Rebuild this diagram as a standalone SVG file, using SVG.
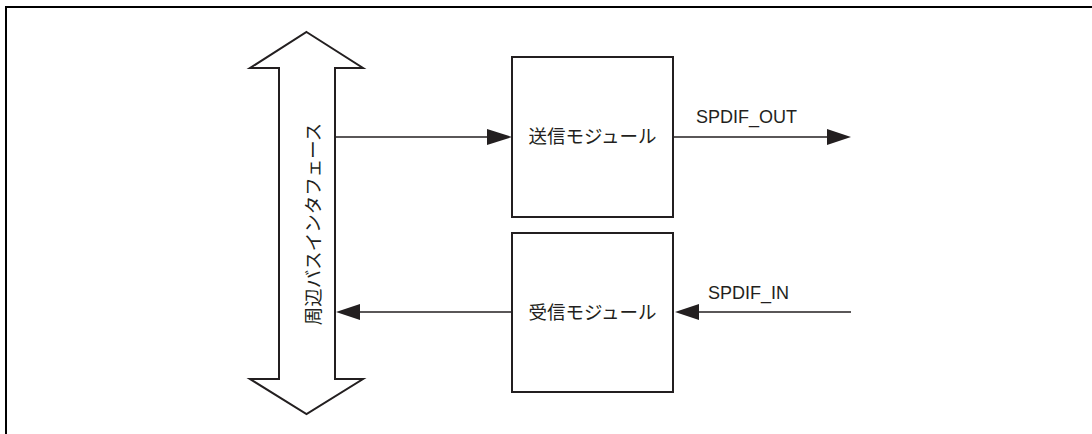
<svg xmlns="http://www.w3.org/2000/svg" width="1092" height="434" viewBox="0 0 1092 434">
<style>
.frame{fill:none;stroke:#000;stroke-width:2}
.box{fill:#fff;stroke:#231f20;stroke-width:2}
.bus{fill:#fff;stroke:#231f20;stroke-width:2;stroke-linejoin:miter}
.ln{fill:none;stroke:#231f20;stroke-width:1.3}
.ah{fill:#231f20}
.t{font-family:"Liberation Sans","Noto Sans CJK JP",sans-serif;font-size:18px;fill:#231f20}
.j{font-size:18.5px}
</style>
<rect width="1092" height="434" fill="#fff"/>
<path class="frame" d="M6,434 V7 H1092"/>
<g id="bus">
<polygon class="bus" points="306.5,32 363,68 335,68 335,379 363,379 306.5,414 250,379 279,379 279,68 250,68"/>
<text class="t j" transform="translate(313,224) rotate(-90)" text-anchor="middle" dominant-baseline="central">周辺バスインタフェース</text>
</g>
<g id="tx">
<rect class="box" x="512" y="57" width="161" height="160"/>
<text class="t j" x="592.5" y="143" text-anchor="middle">送信モジュール</text>
</g>
<g id="rx">
<rect class="box" x="512" y="233" width="161" height="159"/>
<text class="t j" x="592.5" y="319" text-anchor="middle">受信モジュール</text>
</g>
<g id="connectors">
<line class="ln" x1="335" y1="137" x2="490" y2="137"/>
<polygon class="ah" points="487,129 512,137 487,145"/>
<line class="ln" x1="673" y1="137" x2="830" y2="137"/>
<polygon class="ah" points="827,129 851,137 827,145"/>
<text class="t" x="696" y="123">SPDIF_OUT</text>
<line class="ln" x1="851" y1="312" x2="696" y2="312"/>
<polygon class="ah" points="699,304 675,312 699,320"/>
<text class="t" x="708" y="299">SPDIF_IN</text>
<line class="ln" x1="512" y1="312" x2="358" y2="312"/>
<polygon class="ah" points="360,304 336,312 360,320"/>
</g>
</svg>
